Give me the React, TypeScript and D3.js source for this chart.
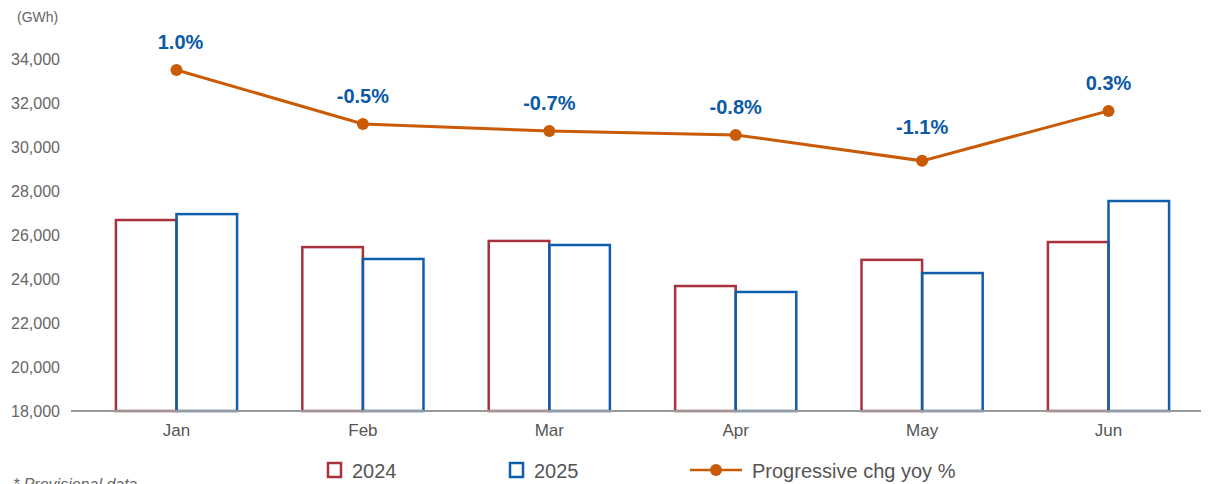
import React from "react";
import * as d3 from "d3";

const months = ["Jan", "Feb", "Mar", "Apr", "May", "Jun"];
const values2024 = [26680, 25450, 25730, 23680, 24870, 25680];
const values2025 = [26950, 24910, 25545, 23410, 24270, 27545];
// progressive yoy change plotted on hidden secondary axis (in GWh-equivalent position)
const lineValues = [33500, 31050, 30730, 30550, 29370, 31640];
const lineLabels = ["1.0%", "-0.5%", "-0.7%", "-0.8%", "-1.1%", "0.3%"];
const yTicks = [18000, 20000, 22000, 24000, 26000, 28000, 30000, 32000, 34000];
const seriesNames = ["2024", "2025"];

const W = 1214;
const H = 484;
const RED = "#a8323a";
const BLUE = "#0f5eac";
const ORANGE = "#c95b06";
const LABEL_BLUE = "#0b5aa8";
const FONT = "'Liberation Sans', Arial, Helvetica, sans-serif";

export default function App() {
  const y = d3.scaleLinear().domain([18000, 34000]).range([411, 59]);
  const x = d3
    .scaleBand<string>()
    .domain(months)
    .range([83.3, 1201.7])
    .paddingInner(0.35)
    .paddingOuter(0.175);
  const inner = d3.scaleBand<string>().domain(seriesNames).range([0, x.bandwidth()]);
  const cx = (m: string) => (x(m) as number) + x.bandwidth() / 2;
  const line = d3
    .line<number>()
    .x((_, i) => cx(months[i]))
    .y((v) => y(v));

  const series = [
    { name: "2024", vals: values2024, color: RED },
    { name: "2025", vals: values2025, color: BLUE },
  ];

  return (
    <svg
      width={W}
      height={H}
      style={{ position: "absolute", left: 0, top: 0, fontFamily: FONT }}
    >
      <text x={17} y={22} fontSize={14} fill="#666">(GWh)</text>
      {yTicks.map((t) => (
        <text
          key={t}
          x={60}
          y={y(t)}
          dy="0.35em"
          textAnchor="end"
          fontSize={16}
          fill="#666"
        >
          {d3.format(",")(t)}
        </text>
      ))}
      {series.map((s) =>
        s.vals.map((v, i) => {
          const x0 = (x(months[i]) as number) + (inner(s.name) as number);
          return (
            <rect
              key={s.name + i}
              x={x0}
              y={y(v)}
              width={inner.bandwidth()}
              height={y(18000) - y(v)}
              fill="none"
              stroke={s.color}
              strokeWidth={2.5}
            />
          );
        })
      )}
      <line x1={71} x2={1201} y1={y(18000)} y2={y(18000)} stroke="#999" strokeWidth={2} />
      {months.map((m) => (
        <text key={m} x={cx(m)} y={436} textAnchor="middle" fontSize={17} fill="#555">
          {m}
        </text>
      ))}
      <path d={line(lineValues) || ""} fill="none" stroke={ORANGE} strokeWidth={3} />
      {lineValues.map((v, i) => (
        <circle key={i} cx={cx(months[i])} cy={y(v)} r={6} fill={ORANGE} />
      ))}
      {lineValues.map((v, i) => (
        <text
          key={"l" + i}
          x={cx(months[i]) + (i === 0 ? 4 : 0)}
          y={y(v) - (i === 4 ? 27 : 21)}
          textAnchor="middle"
          fontSize={20}
          fontWeight="bold"
          fill={LABEL_BLUE}
        >
          {lineLabels[i]}
        </text>
      ))}
      {/* legend */}
      <rect x={328} y={463} width={13} height={14} fill="none" stroke={RED} strokeWidth={2.5} />
      <text x={352} y={478} fontSize={20} fill="#555">2024</text>
      <rect x={510} y={463} width={13} height={14} fill="none" stroke={BLUE} strokeWidth={2.5} />
      <text x={534} y={478} fontSize={20} fill="#555">2025</text>
      <line x1={690} x2={742} y1={470} y2={470} stroke={ORANGE} strokeWidth={2.5} />
      <circle cx={716} cy={470} r={6} fill={ORANGE} />
      <text x={752} y={478} fontSize={20} fill="#555">Progressive chg yoy %</text>
      <text x={13} y={490} fontSize={16} fontStyle="italic" fill="#666">* Provisional data</text>
    </svg>
  );
}
